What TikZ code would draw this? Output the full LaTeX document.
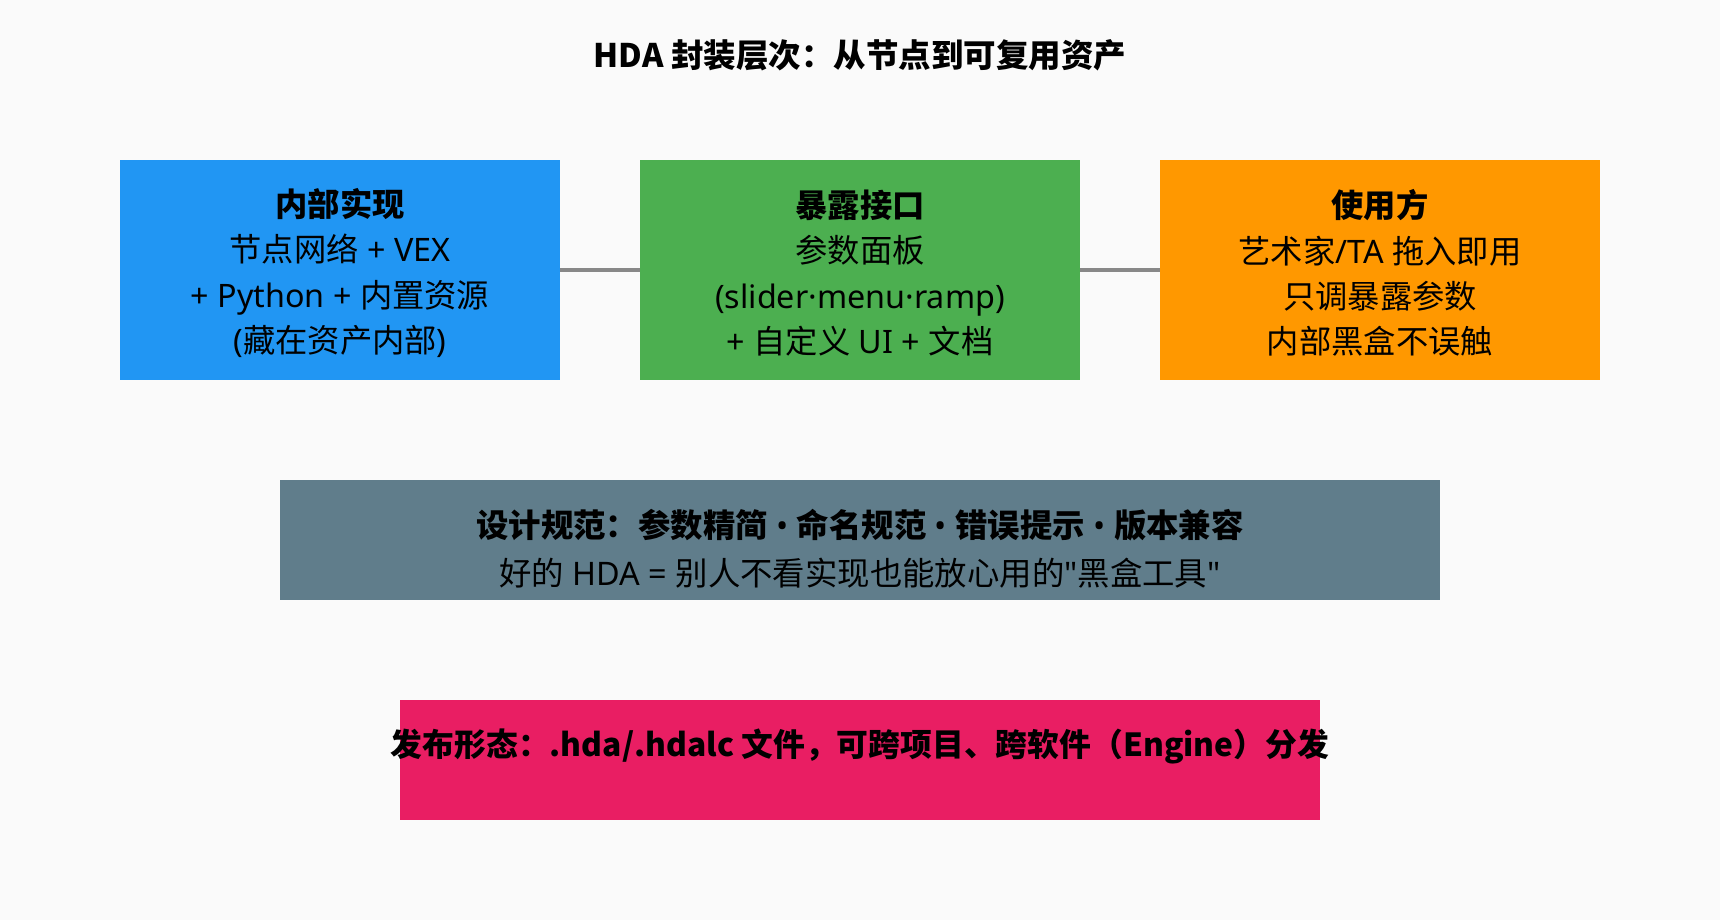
\documentclass[tikz,border=0pt]{standalone}
\usepackage{fontspec}
\setmainfont{Noto Sans CJK SC}
\newfontfamily\latfont{Noto Sans}[Ligatures=TeXOff]
\newcommand\lat[1]{{\latfont #1}}
\usetikzlibrary{positioning}

\definecolor{bgcol}{HTML}{FAFAFA}
\definecolor{implcol}{HTML}{2196F3}
\definecolor{ifacecol}{HTML}{4CAF50}
\definecolor{usercol}{HTML}{FF9800}
\definecolor{rulecol}{HTML}{607D8B}
\definecolor{releasecol}{HTML}{E91E63}
\definecolor{linkcol}{HTML}{888888}

\tikzset{
	layer/.style={rectangle, inner sep=0pt, minimum width=440pt, minimum height=220pt},
	layertext/.style={inner sep=0pt, align=center, font=\fontsize{32.3}{45.3}\selectfont},
	band/.style={rectangle, inner sep=0pt, minimum height=120pt},
	bandtext/.style={inner sep=0pt, align=center, font=\fontsize{32.4}{48}\selectfont},
	link/.style={draw=linkcol, line width=4pt}
}

\begin{document}
\begin{tikzpicture}[x=1pt, y=-1pt]

	% page
	\fill [bgcol] (0,0) rectangle (1720,920);
	\useasboundingbox (0,0) rectangle (1720,920);
	% title
	\node (title) at (860,55) {\fontsize{32.5}{40}\selectfont\bfseries HDA 封装层次：从节点到可复用资产};
	% three layers
	\node (impl) [layer, fill=implcol] at (340,270) {};
	\node (iface) [layer, fill=ifacecol] at (860,270) {};
	\node (user) [layer, fill=usercol] at (1380,270) {};
	\node (impltxt) [layertext] at ([yshift=-3pt]impl.center) {{\bfseries 内部实现}\\节点网络\lat{ + VEX}\\\lat{+ Python + }内置资源\\\lat{(}藏在资产内部\lat{)}};
	\node (ifacetxt) [layertext] at ([yshift=-3pt]iface.center) {{\bfseries 暴露接口}\\参数面板\\\lat{(slider·menu·ramp)}\\\lat{+ }自定义\lat{ UI + }文档};
	\node (usertxt) [layertext] at ([yshift=-3pt]user.center) {{\bfseries 使用方}\\艺术家\lat{/TA }拖入即用\\只调暴露参数\\内部黑盒不误触};
	\draw [link] (impl.east) -- (iface.west);
	\draw [link] (iface.east) -- (user.west);
	% design rules
	\node (rules) [band, fill=rulecol, minimum width=1160pt] at (860,540) {};
	\node (rulestxt) [bandtext] at ([yshift=-9pt]rules.center) {{\bfseries 设计规范：参数精简\lat{ • }命名规范\lat{ • }错误提示\lat{ • }版本兼容}\\好的\lat{ HDA = }别人不看实现也能放心用的\lat{"}黑盒工具\lat{"}};
	% release form
	\node (release) [band, fill=releasecol, minimum width=920pt] at (860,760) {};
	\node (releasetxt) [bandtext, font=\fontsize{31.8}{48}\selectfont] at ([yshift=14pt]release.center) {\bfseries 发布形态：.hda/.hdalc 文件，可跨项目、跨软件（Engine）分发};

\end{tikzpicture}
\end{document}
